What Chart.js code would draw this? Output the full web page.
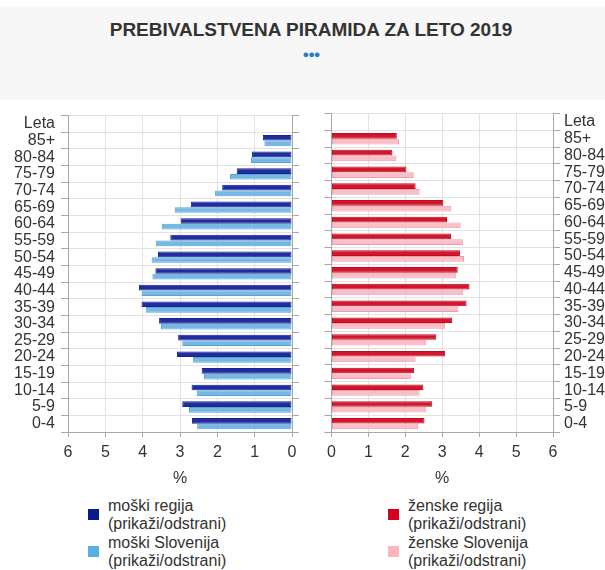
<!DOCTYPE html>
<html lang="sl">
<head>
<meta charset="UTF-8">
<title>Prebivalstvena piramida 2019</title>
<script src="https://cdn.jsdelivr.net/npm/chart.js"></script>
<style>
    body {
        margin: 0;
        width: 605px;
        height: 570px;
        position: relative;
        background: #fff;
        font-family: "Liberation Sans", Arial, sans-serif;
        color: #333;
        overflow: hidden;
    }
    #header {
        position: absolute;
        left: 0; top: 7px;
        width: 605px; height: 93px;
        background: #f7f7f7;
    }
    #title {
        position: absolute;
        left: 0; top: 19px;
        width: 622px;
        text-align: center;
        font-weight: bold;
        font-size: 19px;
        line-height: 22px;
    }
    #dots {
        position: absolute;
        left: 0; top: 47px;
        width: 622px;
        text-align: center;
        font-size: 11px;
        line-height: 14px;
        color: #2b7bc8;
        letter-spacing: -1px;
    }
    .box { position: absolute; }
    #leftBox { left: 0; top: 100px; width: 300px; height: 390px; }
    #rightBox { left: 321px; top: 100px; width: 284px; height: 390px; }
    .legend {
        position: absolute;
        font-size: 16px;
        line-height: 18.3px;
        color: #333;
    }
    .legend .item { position: relative; padding-left: 20px; }
    .legend .sq {
        position: absolute;
        left: 0; top: 12px;
        width: 11px; height: 11px;
    }
    #legLeft { left: 88px; top: 497px; }
    #legRight { left: 388px; top: 497px; }
</style>
</head>
<body>
<div id="header"></div>
<div id="title">PREBIVALSTVENA PIRAMIDA ZA LETO 2019</div>
<div id="dots">●●●</div>

<div id="leftBox" class="box"><canvas id="left"></canvas></div>
<div id="rightBox" class="box"><canvas id="right"></canvas></div>

<div id="legLeft" class="legend">
    <div class="item"><span class="sq" style="background:#0d1a8e"></span>moški regija<br>(prikaži/odstrani)</div>
    <div class="item"><span class="sq" style="background:#5aafe2"></span>moški Slovenija<br>(prikaži/odstrani)</div>
</div>
<div id="legRight" class="legend">
    <div class="item"><span class="sq" style="background:#d4011a"></span>ženske regija<br>(prikaži/odstrani)</div>
    <div class="item"><span class="sq" style="background:#ffb4bf"></span>ženske Slovenija<br>(prikaži/odstrani)</div>
</div>

<script>
// starostne skupine (od zgoraj navzdol)
const ageGroups = ['85+', '80-84', '75-79', '70-74', '65-69', '60-64', '55-59', '50-54', '45-49',
                   '40-44', '35-39', '30-34', '25-29', '20-24', '15-19', '10-14', '5-9', '0-4'];
const axisTitle = 'Leta';
const xTicks = [0, 1, 2, 3, 4, 5, 6];

// deleži v %
const moskiRegija    = [0.78, 1.07, 1.48, 1.87, 2.71, 2.98, 3.26, 3.59, 3.66, 4.10, 4.03, 3.56, 3.05, 3.08, 2.42, 2.69, 2.94, 2.68];
const moskiSlovenija = [0.74, 1.10, 1.66, 2.06, 3.14, 3.49, 3.65, 3.76, 3.74, 4.03, 3.92, 3.51, 2.94, 2.65, 2.36, 2.55, 2.76, 2.54];
const zenskeRegija    = [1.77, 1.65, 2.03, 2.28, 3.03, 3.13, 3.24, 3.48, 3.42, 3.74, 3.66, 3.27, 2.84, 3.08, 2.24, 2.49, 2.73, 2.52];
const zenskeSlovenija = [1.83, 1.76, 2.23, 2.39, 3.25, 3.50, 3.56, 3.59, 3.37, 3.57, 3.44, 3.08, 2.57, 2.28, 2.15, 2.39, 2.57, 2.35];

const labels = [axisTitle, ...ageGroups];
const withTop = arr => [null, ...arr];

const font16 = { family: '"Liberation Sans", Arial, sans-serif', size: 16 };
const gridColor = '#e2e2e2';
const axisColor = '#a8a8a8';

function makeChart(id, side, ds) {
    const isLeft = side === 'left';
    return new Chart(document.getElementById(id), {
        type: 'bar',
        data: {
            labels: labels,
            datasets: ds.map(d => ({
                data: withTop(d.data),
                backgroundColor: d.bg,
                borderColor: d.border,
                borderWidth: 1,
                borderSkipped: false,
                categoryPercentage: 0.68,
                barPercentage: 1.0
            }))
        },
        options: {
            indexAxis: 'y',
            responsive: true,
            maintainAspectRatio: false,
            animation: false,
            layout: { padding: { top: 10, left: 0, right: 0, bottom: 0 } },
            plugins: { legend: { display: false }, tooltip: { enabled: false } },
            scales: {
                x: {
                    type: 'linear',
                    position: 'bottom',
                    min: 0, max: 6,
                    reverse: isLeft,
                    afterBuildTicks: s => { s.ticks = xTicks.map(v => ({ value: v })); },
                    afterFit: s => { s.height = 58; },
                    grid: { color: gridColor, tickColor: axisColor, tickLength: 5 },
                    border: { color: axisColor },
                    ticks: { font: font16, color: '#333', padding: 6 },
                    title: { display: true, text: '%', font: font16, color: '#333', padding: { top: 0, bottom: 2 } }
                },
                y: {
                    type: 'category',
                    position: isLeft ? 'left' : 'right',
                    afterFit: s => { s.width = isLeft ? 68 : 52; },
                    grid: { color: gridColor, tickColor: axisColor, tickLength: 7, offset: true },
                    border: { color: axisColor },
                    ticks: { font: font16, color: '#333', padding: isLeft ? 6 : 4, autoSkip: false }
                },
                y2: {
                    type: 'category',
                    labels: labels,
                    position: isLeft ? 'right' : 'left',
                    afterFit: s => { s.width = 8; },
                    grid: { drawOnChartArea: false, tickColor: axisColor, tickLength: 7, offset: true },
                    border: { color: axisColor },
                    ticks: { display: false }
                }
            }
        }
    });
}

makeChart('left', 'left', [
    { data: moskiRegija, bg: '#1f2d9e', border: '#17248c' },
    { data: moskiSlovenija, bg: '#74b9e4', border: '#5aa3d6' }
]);
makeChart('right', 'right', [
    { data: zenskeRegija, bg: '#d5152c', border: '#b90f22' },
    { data: zenskeSlovenija, bg: '#f9bfc8', border: '#ec9eab' }
]);
</script>
</body>
</html>
